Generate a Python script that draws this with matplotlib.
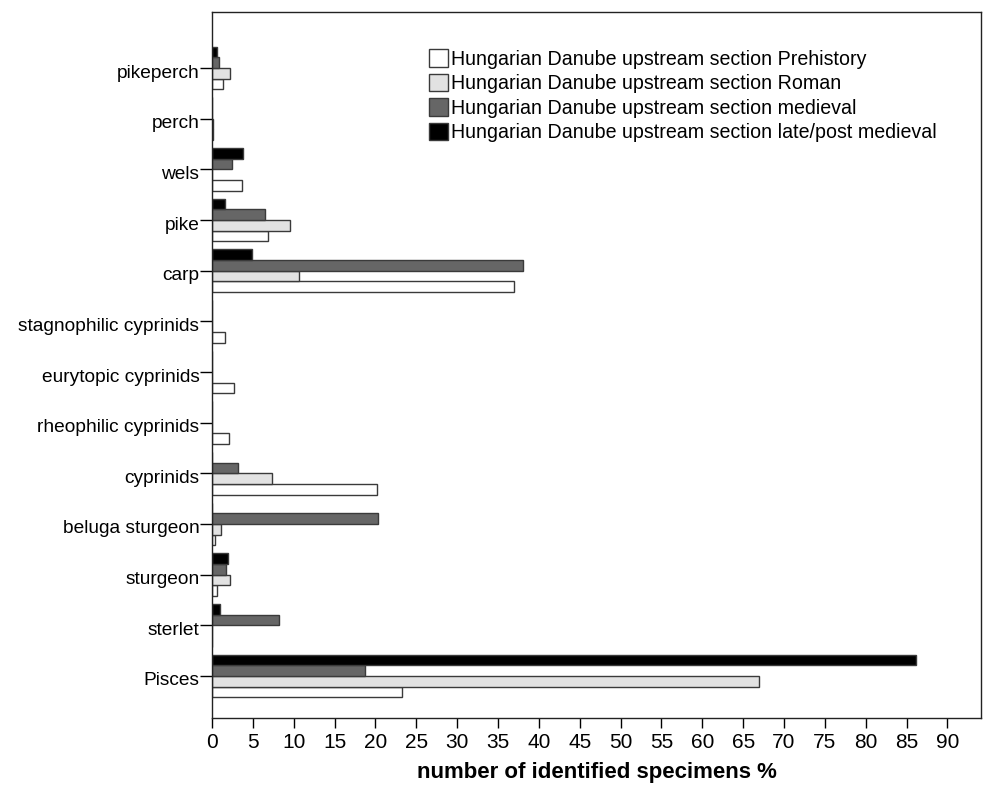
import numpy as np
import matplotlib
matplotlib.use('Agg')
import matplotlib.pyplot as plt
import matplotlib.transforms as mtransforms

plt.rcParams['font.family'] = ['Liberation Sans', 'DejaVu Sans']

categories = ['pikeperch', 'perch', 'wels', 'pike', 'carp', 'stagnophilic cyprinids',
              'eurytopic cyprinids', 'rheophilic cyprinids', 'cyprinids', 'beluga sturgeon',
              'sturgeon', 'sterlet', 'Pisces']

# % of identified specimens per period
prehistory = [1.4, 0.15, 3.7, 6.9, 36.9, 1.6, 2.7, 2.1, 20.2, 0.4, 0.6, 0.0, 23.3]
roman = [2.2, 0.1, 0.0, 9.5, 10.6, 0.0, 0.0, 0.0, 7.4, 1.1, 2.2, 0.0, 66.9]
medieval = [0.9, 0.0, 2.5, 6.5, 38.1, 0.0, 0.0, 0.0, 3.2, 20.3, 1.7, 8.2, 18.7]
late_medieval = [0.6, 0.0, 3.8, 1.6, 4.9, 0.0, 0.0, 0.0, 0.0, 0.0, 2.0, 1.0, 86.2]

series = [
    ('Hungarian Danube upstream section Prehistory', prehistory, 'white'),
    ('Hungarian Danube upstream section Roman', roman, '#e2e2e2'),
    ('Hungarian Danube upstream section medieval', medieval, '#666666'),
    ('Hungarian Danube upstream section late/post medieval', late_medieval, 'black'),
]

fig = plt.figure(figsize=(9.84, 7.95), dpi=100)
ax = fig.add_axes([212 / 984, 1 - 718 / 795, (981 - 212) / 984, (718 - 12) / 795])

y = np.arange(len(categories))[::-1].astype(float)
h = 0.21
offsets = [-1.5 * h, -0.5 * h, 0.5 * h, 1.5 * h]
for (name, vals, col), off in zip(series, offsets):
    ax.barh(y + off, vals, height=h, color=col, edgecolor='#3a3a3a', linewidth=1.0, label=name)

ax.set_ylim(-0.83, len(categories) - 1 + 1.107)
ax.set_xlim(0, 94.1)
ax.set_yticks(y)
ax.set_yticklabels(categories, fontsize=13.8)
ax.set_xticks(np.arange(0, 95, 5))
ax.set_xticklabels([str(v) for v in range(0, 95, 5)], fontsize=15)
ax.tick_params(axis='x', length=7, width=1, direction='out', pad=4)
ax.tick_params(axis='y', length=9, width=1, direction='out', pad=0)

# category names sit a little below their tick marks
shift = mtransforms.ScaledTranslation(0, -3 / 100, fig.dpi_scale_trans)
for lab in ax.get_yticklabels():
    lab.set_transform(lab.get_transform() + shift)

for s in ax.spines.values():
    s.set_color('#222222')
    s.set_linewidth(1.0)

ax.set_xlabel('number of identified specimens %', fontsize=16, fontweight='bold', labelpad=7)

leg = ax.legend(loc='upper left', bbox_to_anchor=(0.272, 0.958), frameon=False, fontsize=14.1,
                handlelength=0.95, handleheight=1.0, handletextpad=0.15, labelspacing=0.25,
                borderaxespad=0)

fig.savefig('out.png', dpi=100)
